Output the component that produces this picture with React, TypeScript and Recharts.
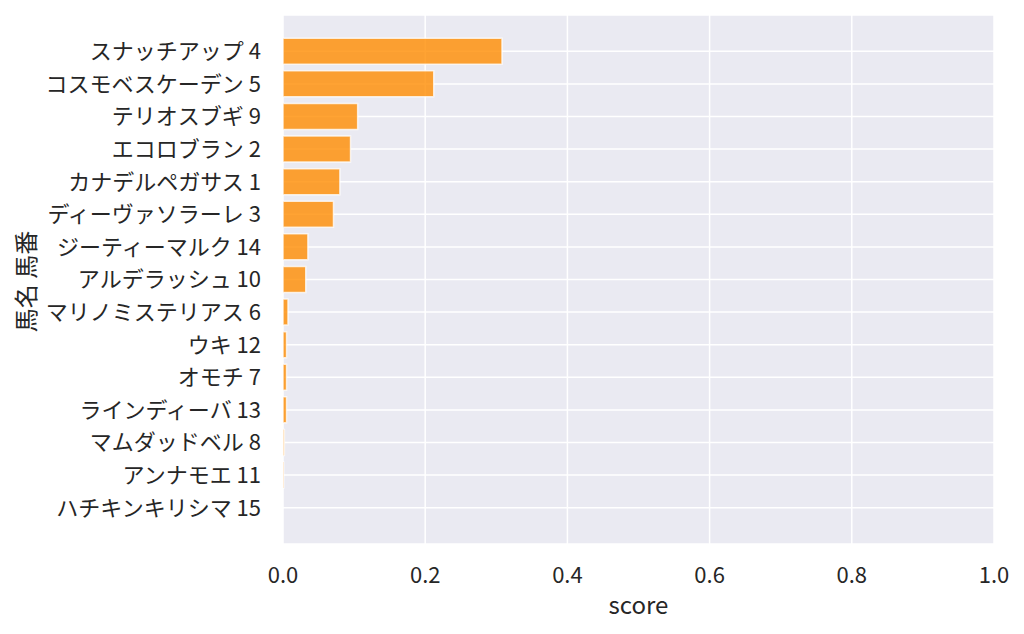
import { BarChart, Bar, XAxis, YAxis, CartesianGrid } from 'recharts';

const horses = [
  'スナッチアップ 4',
  'コスモベスケーデン 5',
  'テリオスブギ 9',
  'エコロブラン 2',
  'カナデルペガサス 1',
  'ディーヴァソラーレ 3',
  'ジーティーマルク 14',
  'アルデラッシュ 10',
  'マリノミステリアス 6',
  'ウキ 12',
  'オモチ 7',
  'ラインディーバ 13',
  'マムダッドベル 8',
  'アンナモエ 11',
  'ハチキンキリシマ 15',
];

const scores = [
  0.308, 0.212, 0.105, 0.095, 0.08, 0.071, 0.035, 0.032, 0.007, 0.005, 0.005, 0.005, 0.002,
  0.001, 0,
];

const xTicks = [0, 0.2, 0.4, 0.6, 0.8, 1.0];

const data = horses.map((name, i) => ({ name, score: scores[i] }));

const FONT = '"Noto Sans CJK JP", "Noto Sans", sans-serif';
const TEXT = '#262626';

function YLabel({ viewBox }: { viewBox?: { x: number; y: number; width: number; height: number } }) {
  const cx = 24;
  const cy = viewBox ? viewBox.y + viewBox.height / 2 + 2 : 282;
  return (
    <text
      x={cx}
      y={cy}
      transform={`rotate(-90 ${cx} ${cy})`}
      textAnchor="middle"
      dominantBaseline="central"
      fill={TEXT}
      fontSize={24}
      fontFamily={FONT}
    >
      馬名 馬番
    </text>
  );
}

function XLabel({ viewBox }: { viewBox?: { x: number; y: number; width: number; height: number } }) {
  const cx = viewBox ? viewBox.x + viewBox.width / 2 : 638;
  const y = viewBox ? viewBox.y + 70 : 614;
  return (
    <text x={cx} y={y} textAnchor="middle" fill={TEXT} fontSize={24} fontFamily={FONT}>
      score
    </text>
  );
}

export default function App() {
  return (
    <div style={{ position: 'absolute', left: 0, top: 0, width: 1024, height: 634, background: '#fff' }}>
      <BarChart
        width={1024}
        height={634}
        data={data}
        layout="vertical"
        margin={{ top: 15, right: 30, bottom: 0, left: 0 }}
        barCategoryGap="10%"
        style={{ fontFamily: FONT }}
      >
        <CartesianGrid fill="#eaeaf2" stroke="#ffffff" strokeWidth={1.5} />
        <XAxis
          type="number"
          dataKey="score"
          domain={[0, 1]}
          ticks={xTicks}
          tickFormatter={(v: number) => v.toFixed(1)}
          tick={{ fill: TEXT, fontSize: 22, fontFamily: FONT }}
          tickLine={false}
          axisLine={false}
          tickSize={0}
          tickMargin={23}
          height={90}
          label={{ content: XLabel as never }}
        />
        <YAxis
          type="category"
          dataKey="name"
          width={283}
          padding={{ top: 20, bottom: 20 }}
          interval={0}
          tick={{ fill: TEXT, fontSize: 22, fontFamily: FONT }}
          tickLine={false}
          axisLine={false}
          tickSize={0}
          tickMargin={22}
          label={{ content: YLabel as never }}
        />
        <Bar
          dataKey="score"
          fill="#ff8c00"
          fillOpacity={0.8}
          stroke="#ffffff"
          strokeOpacity={0.75}
          strokeWidth={1.5}
          isAnimationActive={false}
        />
      </BarChart>
    </div>
  );
}
